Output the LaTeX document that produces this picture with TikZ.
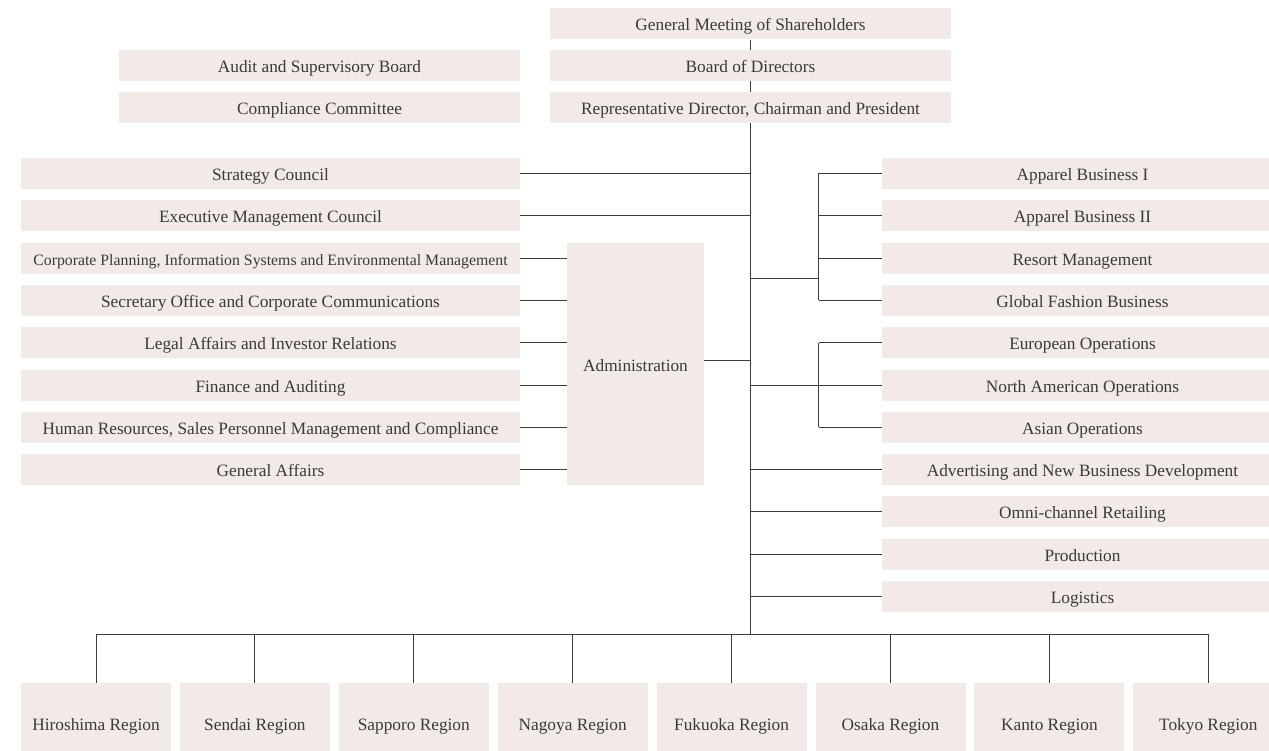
\documentclass[tikz,border=0pt]{standalone}
\usepackage{fontspec}
\setmainfont{Liberation Serif}
\definecolor{boxfill}{HTML}{F2EAE7}
\definecolor{txt}{HTML}{3A3A3A}
\definecolor{ln}{HTML}{3C3C3C}
\tikzset{
  obox/.style={rectangle, fill=boxfill, inner sep=0pt, text=txt, text height=16pt, text depth=2pt, font=\fontsize{17.3}{20}\selectfont},
  wide/.style={obox, minimum width=499pt, minimum height=31pt},
  std/.style={obox, minimum width=401pt, minimum height=31pt},
  region/.style={obox, minimum width=150pt, minimum height=80pt},
  conn/.style={draw=ln, line width=1pt}
}
\begin{document}
\begin{tikzpicture}[x=1pt,y=-1pt]
\useasboundingbox (0,0) rectangle (1269,751);
\clip (0,0) rectangle (1269,751);
% top
\node[std] (gm) at (750.5,24) {General Meeting of Shareholders};
\node[std] (board) at (750.5,65.5) {Board of Directors};
\node[std] (rep) at (750.5,107.5) {Representative Director, Chairman and President};
\node[std] (audit) at (319.5,65.5) {Audit and Supervisory Board};
\node[std] (comp) at (319.5,107.5) {Compliance Committee};
% left column
\node[wide] (strat) at (270.5,173.5) {Strategy Council};
\node[wide] (exec) at (270.5,215.8) {Executive Management Council};
\node[wide] (cp) at (270.5,258.1) {\fontsize{15.8}{18}\selectfont Corporate Planning, Information Systems and Environmental Management};
\node[wide] (sec) at (270.5,300.4) {Secretary Office and Corporate Communications};
\node[wide] (legal) at (270.5,342.7) {Legal Affairs and Investor Relations};
\node[wide] (fin) at (270.5,385.0) {Finance and Auditing};
\node[wide] (hr) at (270.5,427.3) {Human Resources, Sales Personnel Management and Compliance};
\node[wide] (ga) at (270.5,469.6) {General Affairs};
\node[obox, minimum width=137pt, minimum height=242pt] (admin) at (635.5,364) {Administration};
% right column
\node[std] (ab1) at (1082.5,173.5) {Apparel Business I};
\node[std] (ab2) at (1082.5,215.8) {Apparel Business II};
\node[std] (resort) at (1082.5,258.1) {Resort Management};
\node[std] (glob) at (1082.5,300.4) {Global Fashion Business};
\node[std] (euro) at (1082.5,342.7) {European Operations};
\node[std] (na) at (1082.5,385.0) {North American Operations};
\node[std] (asia) at (1082.5,427.3) {Asian Operations};
\node[std] (adv) at (1082.5,469.6) {Advertising and New Business Development};
\node[std] (omni) at (1082.5,511.9) {Omni-channel Retailing};
\node[std] (prod) at (1082.5,554.2) {Production};
\node[std] (logi) at (1082.5,596.5) {Logistics};
% regions
\node[region] (r1) at (96,723) {Hiroshima Region};
\node[region] (r2) at (254.9,723) {Sendai Region};
\node[region] (r3) at (413.8,723) {Sapporo Region};
\node[region] (r4) at (572.7,723) {Nagoya Region};
\node[region] (r5) at (731.6,723) {Fukuoka Region};
\node[region] (r6) at (890.5,723) {Osaka Region};
\node[region] (r7) at (1049.4,723) {Kanto Region};
\node[region] (r8) at (1208.3,723) {Tokyo Region};
% coordinates
\coordinate (bus) at (750.5,634);
\coordinate (g1) at (818.5,279);
\coordinate (g2) at (818.5,385);
% connectors
\draw[conn] (gm.south) -- (board.north);
\draw[conn] (board.south) -- (rep.north);
\draw[conn] (rep.south) -- (bus);
\foreach \n in {strat,exec} \draw[conn] (\n.east) -- (\n.east -| rep.south);
\foreach \n in {cp,sec,legal,fin,hr,ga} \draw[conn] (\n.east) -- (\n.east -| admin.west);
\draw[conn] ([yshift=4pt]admin.east) -- ([yshift=4pt]admin.east -| rep.south);
% group 1
\draw[conn] (g1 -| rep.south) -- (g1);
\draw[conn] (g1 |- ab1.west) -- (g1 |- glob.west);
\foreach \n in {ab1,ab2,resort,glob} \draw[conn] (g1 |- \n.west) -- (\n.west);
% group 2
\draw[conn] (na.west -| rep.south) -- (na.west);
\draw[conn] (g2 |- euro.west) -- (g2 |- asia.west);
\foreach \n in {euro,asia} \draw[conn] (g2 |- \n.west) -- (\n.west);
% direct
\foreach \n in {adv,omni,prod,logi} \draw[conn] (\n.west -| rep.south) -- (\n.west);
% bus
\draw[conn] (r1.north |- bus) -- (r8.north |- bus);
\foreach \n in {r1,r2,r3,r4,r5,r6,r7,r8} \draw[conn] (\n.north |- bus) -- (\n.north);
\end{tikzpicture}
\end{document}
